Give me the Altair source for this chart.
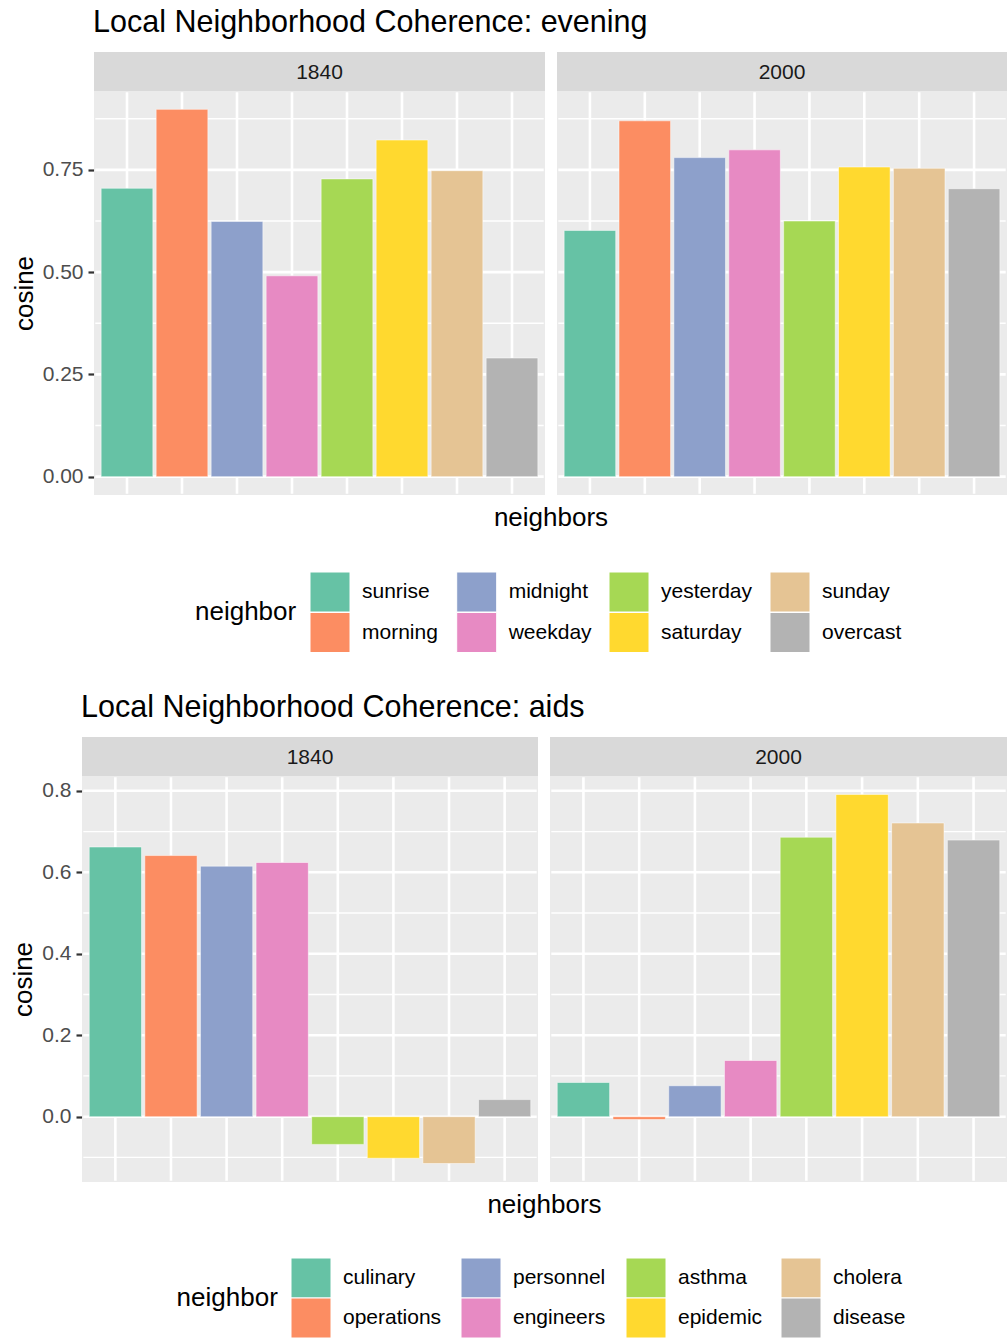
import altair as alt
import pandas as pd

FONT = "Liberation Sans"

YEARS = ["1840", "2000"]

EVENING_NEIGHBORS = ["sunrise", "morning", "midnight", "weekday",
                     "yesterday", "saturday", "sunday", "overcast"]
EVENING_1840 = [0.705, 0.898, 0.624, 0.491, 0.728, 0.823, 0.748, 0.290]
EVENING_2000 = [0.602, 0.870, 0.780, 0.799, 0.625, 0.757, 0.754, 0.704]

AIDS_NEIGHBORS = ["culinary", "operations", "personnel", "engineers",
                  "asthma", "epidemic", "cholera", "disease"]
AIDS_1840 = [0.662, 0.641, 0.615, 0.624, -0.068, -0.102, -0.115, 0.042]
AIDS_2000 = [0.084, -0.007, 0.076, 0.138, 0.686, 0.791, 0.721, 0.679]

SET2 = ["#66C2A5", "#FC8D62", "#8DA0CB", "#E78AC3",
        "#A6D854", "#FFD92F", "#E5C494", "#B3B3B3"]

EVENING_TICKS = [0.0, 0.25, 0.5, 0.75]
EVENING_MINOR = [0.125, 0.375, 0.625, 0.875]
AIDS_TICKS = [0.0, 0.2, 0.4, 0.6, 0.8]
AIDS_MINOR = [-0.1, 0.1, 0.3, 0.5, 0.7]

PANEL_BG = "#EBEBEB"
STRIP_BG = "#D9D9D9"
MAJOR_W = 2.6
MINOR_W = 1.3


def y_domain(*series):
    lo = min(0.0, min(min(s) for s in series))
    hi = max(0.0, max(max(s) for s in series))
    pad = (hi - lo) * 0.05
    return [lo - pad, hi + pad]


def panel(neighbors, values, year, domain, ticks, minor, fmt,
          width, height, x0, show_axis):
    df = pd.DataFrame({"neighbor": neighbors, "cosine": values})
    one = pd.DataFrame({"year": [year]})
    xscale = alt.Scale(domain=neighbors, range=[x0, width],
                       paddingInner=0.06, paddingOuter=0.13)
    yscale = alt.Scale(domain=domain, nice=False, zero=False)
    color = alt.Color("neighbor:N",
                      scale=alt.Scale(domain=neighbors, range=SET2),
                      legend=None)

    if show_axis:
        axis_kw = dict(values=ticks, format=fmt, title="cosine", grid=False,
                       domain=False, tickColor="#333333", tickWidth=2.2,
                       tickSize=6, labelFontSize=21, labelColor="#4D4D4D",
                       labelFont=FONT, labelPadding=5, titleFontSize=26,
                       titleFont=FONT, titleColor="black",
                       titleFontWeight="normal", titlePadding=5)
        if x0:
            axis_kw["offset"] = -x0
        yaxis = alt.Axis(**axis_kw)
    else:
        yaxis = None

    # keep line ends inside the panel so they do not widen the layout
    hx0 = x0 + MAJOR_W / 2
    hx1 = width - MAJOR_W / 2

    bg = alt.Chart(one).mark_rect(color=PANEL_BG).encode(
        x=alt.value(x0), x2=alt.value(width),
        y=alt.value(0), y2=alt.value(height))
    vgrid = alt.Chart(df).mark_rule(color="white", strokeWidth=MAJOR_W).encode(
        x=alt.X("neighbor:N", scale=xscale, axis=None),
        y=alt.value(MAJOR_W / 2), y2=alt.value(height - MAJOR_W / 2))
    minor_g = alt.Chart(pd.DataFrame({"cosine": minor})).mark_rule(
        color="white", strokeWidth=MINOR_W).encode(
        y=alt.Y("cosine:Q", scale=yscale, axis=yaxis),
        x=alt.value(hx0), x2=alt.value(hx1))
    major_g = alt.Chart(pd.DataFrame({"cosine": ticks})).mark_rule(
        color="white", strokeWidth=MAJOR_W).encode(
        y=alt.Y("cosine:Q", scale=yscale, axis=yaxis),
        x=alt.value(hx0), x2=alt.value(hx1))
    bars = alt.Chart(df).mark_bar(stroke="white", strokeWidth=0.5).encode(
        x=alt.X("neighbor:N", scale=xscale, axis=None),
        y=alt.Y("cosine:Q", scale=yscale, axis=yaxis),
        color=color)

    srect = alt.Chart(one).mark_rect(color=STRIP_BG).encode(
        x=alt.value(x0), x2=alt.value(width),
        y=alt.value(-39), y2=alt.value(0))
    stext = alt.Chart(one).mark_text(font=FONT, fontSize=21, color="#1A1A1A",
                                     baseline="alphabetic").encode(
        text="year:N", x=alt.value((x0 + width) / 2), y=alt.value(-12))

    return alt.layer(bg, vgrid, minor_g, major_g, bars, srect, stext).properties(
        width=width, height=height), color


def section(title, neighbors, v1840, v2000, ticks, minor, fmt,
            x0, w_left, w_right, height, title_x,
            leg_x, leg_y, leg_title_x, xtitle_x, leg_h):
    domain = y_domain(v1840, v2000)
    left, color = panel(neighbors, v1840, YEARS[0], domain, ticks, minor, fmt,
                        x0 + w_left, height, x0, True)
    right, _ = panel(neighbors, v2000, YEARS[1], domain, ticks, minor, fmt,
                     w_right, height, 0, False)
    panels = alt.hconcat(left, right, spacing=12)

    title_chart = alt.Chart(pd.DataFrame({"t": [title]})).mark_text(
        font=FONT, fontSize=30.5, color="black", align="left",
        baseline="alphabetic").encode(
        text="t:N", x=alt.value(title_x), y=alt.value(25.3)).properties(
        width=600, height=45)

    leg_df = pd.DataFrame({
        "neighbor": neighbors,
        "col": [i // 2 for i in range(len(neighbors))],
        "row": [i % 2 for i in range(len(neighbors))],
    })
    lx = alt.Scale(domain=[0, 1, 2, 3], range=leg_x, nice=False, zero=False)
    ly = alt.Scale(domain=[0, 1], range=leg_y, nice=False, zero=False)
    squares = alt.Chart(leg_df).mark_square(
        size=1600, opacity=1, stroke="white", strokeWidth=1).encode(
        x=alt.X("col:Q", scale=lx, axis=None),
        y=alt.Y("row:Q", scale=ly, axis=None),
        color=color)
    labels = alt.Chart(leg_df).mark_text(
        font=FONT, fontSize=21, color="black", align="left",
        baseline="middle", dx=32).encode(
        x=alt.X("col:Q", scale=lx, axis=None),
        y=alt.Y("row:Q", scale=ly, axis=None),
        text="neighbor:N")
    leg_title = alt.Chart(pd.DataFrame({"t": ["neighbor"]})).mark_text(
        font=FONT, fontSize=26, color="black", align="left",
        baseline="middle").encode(
        text="t:N", x=alt.value(leg_title_x),
        y=alt.value((leg_y[0] + leg_y[1]) / 2))
    xtitle = alt.Chart(pd.DataFrame({"t": ["neighbors"]})).mark_text(
        font=FONT, fontSize=26, color="black", align="center",
        baseline="alphabetic").encode(
        text="t:N", x=alt.value(xtitle_x), y=alt.value(31))
    legend_chart = alt.layer(squares, labels, leg_title, xtitle).properties(
        width=900, height=leg_h)

    return alt.vconcat(title_chart, panels, legend_chart, spacing=0)


top = section("Local Neighborhood Coherence: evening", EVENING_NEIGHBORS,
              EVENING_1840, EVENING_2000, EVENING_TICKS, EVENING_MINOR, ".2f",
              12, 451, 450, 404, 11,
              [248, 394.7, 547, 708], [97, 137.5], 113, 469, 158)
bottom = section("Local Neighborhood Coherence: aids", AIDS_NEIGHBORS,
                 AIDS_1840, AIDS_2000, AIDS_TICKS, AIDS_MINOR, ".1f",
                 0, 456, 457, 406, -1,
                 [229, 399, 564, 719], [96, 136], 94.6, 462.5, 157)

chart = alt.vconcat(top, bottom, spacing=37).resolve_scale(
    color="independent").properties(
    padding={"left": 10, "top": 7, "right": 0, "bottom": 0}
).configure(font=FONT).configure_view(strokeWidth=0)

chart.save("out.html", embed_options={"renderer": "svg", "actions": False})
